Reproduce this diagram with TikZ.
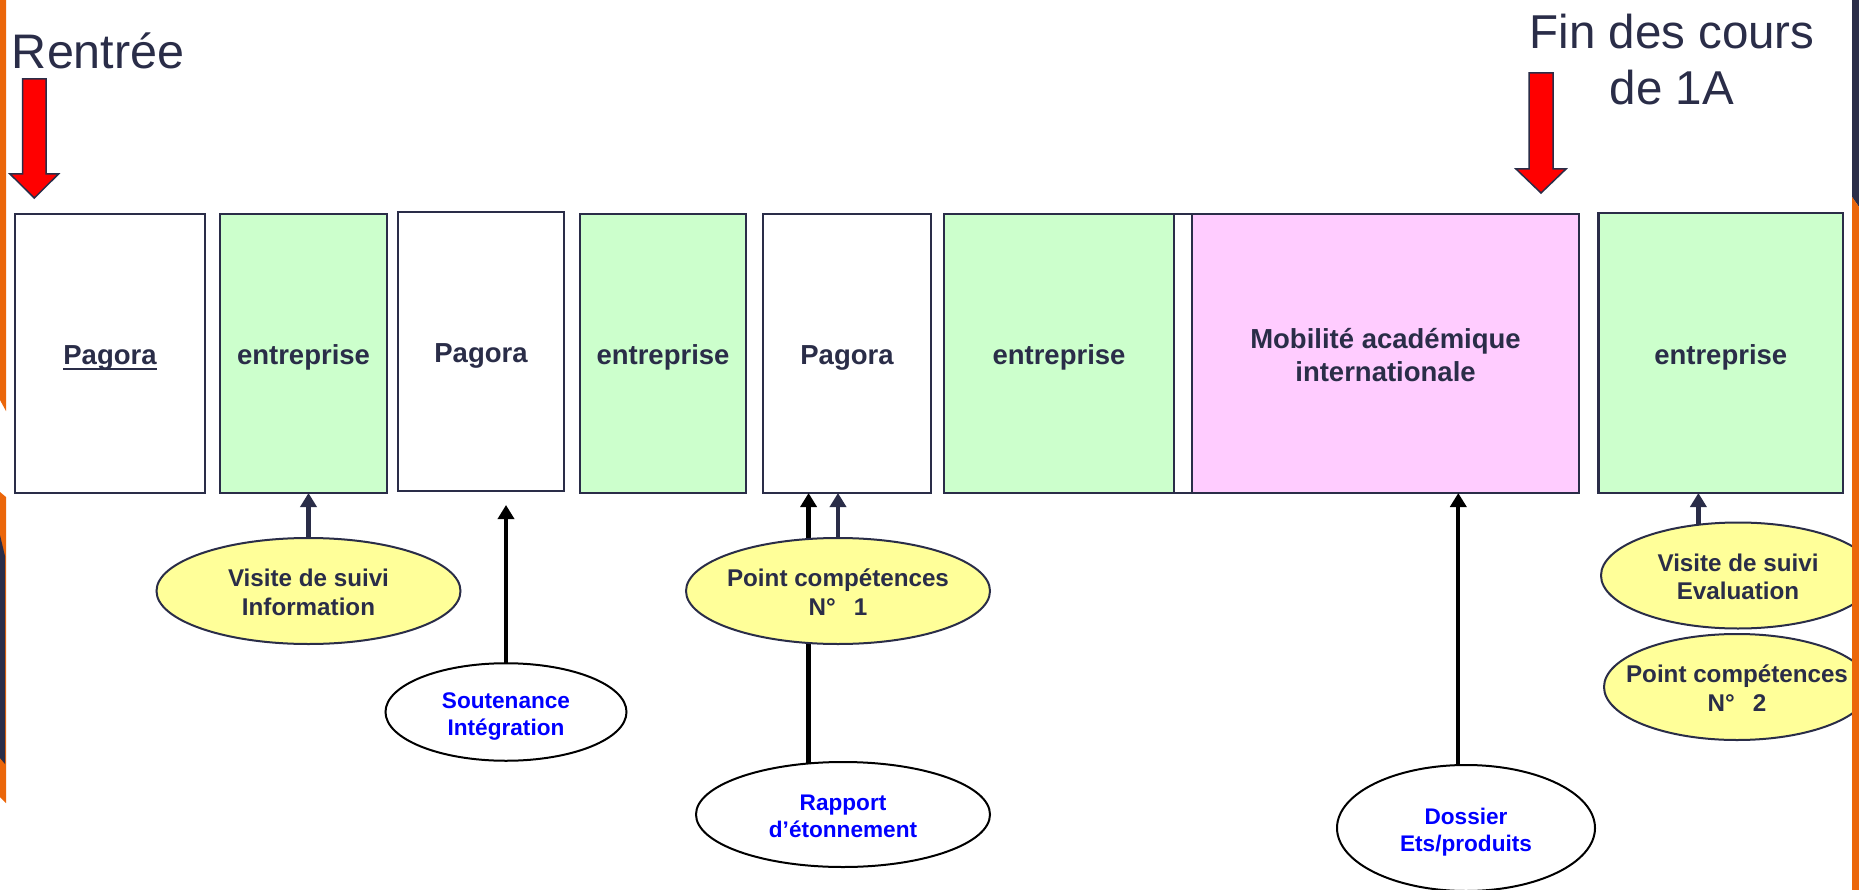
\documentclass[tikz,border=0pt]{standalone}
\usepackage{fontspec}
\setmainfont{Liberation Sans}
\usetikzlibrary{arrows.meta,calc,shapes.geometric}
\definecolor{navy}{RGB}{42,45,72}
\definecolor{greenfill}{RGB}{204,255,204}
\definecolor{pinkfill}{RGB}{255,204,255}
\definecolor{yellowfill}{RGB}{255,255,153}
\definecolor{bluetext}{RGB}{0,0,255}
\definecolor{redfill}{RGB}{255,0,0}
\definecolor{orangestrip}{RGB}{235,102,10}
\newcommand\myul[1]{\setbox0\hbox{#1}\rlap{\rule[-5pt]{\wd0}{2pt}}\box0}
\newcommand\etxt[2][-4.4pt]{\makebox[0pt]{\raisebox{#1}[\height][\depth]{\begin{tabular}{@{}c@{}}#2\end{tabular}}}}
\tikzset{
  box/.style={draw=navy, line width=2.2pt, anchor=north west, outer sep=0pt, inner sep=0pt,
    minimum height=279pt, text=navy, font=\fontsize{27.5}{33.5}\selectfont\bfseries},
  ell/.style={ellipse, line width=2pt, inner sep=0pt, outer sep=0pt},
  yell/.style={ell, draw=navy, fill=yellowfill, text=navy, minimum height=106pt,
    font=\fontsize{24.2}{28.2}\selectfont\bfseries},
  wellip/.style={ell, draw=black, fill=white, text=bluetext,
    font=\fontsize{22.6}{26.7}\selectfont\bfseries},
  navarrow/.style={draw=navy, line width=4.3pt, -{Triangle[width=16pt,length=14pt]}},
  blkarrow/.style={draw=black, line width=4.3pt, -{Triangle[width=16pt,length=14pt]}},
  redarrow/.style={fill=redfill, draw=navy, line width=1.5pt, line join=miter},
  title/.style={inner sep=0pt, outer sep=0pt, text=navy}
}
\begin{document}
\begin{tikzpicture}[x=1pt,y=-1pt]
\useasboundingbox (0,0) rectangle (1859,890);
\fill[white] (0,0) rectangle (1859,890);

% titles
\node[title, anchor=base west, font=\fontsize{48.5}{58}\selectfont] (rentree) at (12,69) {Rentrée};
\node[title, anchor=north, font=\fontsize{47.5}{56.7}\selectfont] (fin) at (1672,8.4) {\begin{tabular}{@{}c@{}}Fin des cours\\de 1A\end{tabular}};

% red arrows
\draw[redarrow] (22.5,79) -- (46,79) -- (46,174) -- (58.5,174) -- (34.3,198) -- (10,174) -- (22.5,174) -- cycle;
\draw[redarrow] (1529,73) -- (1553,73) -- (1553,169) -- (1566,169) -- (1541,193) -- (1516,169) -- (1529,169) -- cycle;

% period boxes
\node[box, fill=white, minimum width=190pt] (b1) at (15,214) {\etxt[-4.6pt]{\myul{Pagora}}};
\node[box, fill=greenfill, minimum width=167pt] (b2) at (220,214) {\etxt[-4.6pt]{entreprise}};
\node[box, fill=white, minimum width=166pt] (b3) at (398,212) {\etxt[-4.6pt]{Pagora}};
\node[box, fill=greenfill, minimum width=166pt] (b4) at (580,214) {\etxt[-4.6pt]{entreprise}};
\node[box, fill=white, minimum width=168pt] (b5) at (763,214) {\etxt[-4.6pt]{Pagora}};
\node[box, fill=white, minimum width=79pt] (bx) at (1113,214) {};
\node[box, fill=greenfill, minimum width=230pt] (b6) at (944,214) {\etxt[-4.6pt]{entreprise}};
\node[box, fill=pinkfill, minimum width=387pt] (b7) at (1192,214) {\etxt[-4.6pt]{Mobilité académique\\internationale}};
\node[box, fill=greenfill, minimum width=244.5pt, minimum height=280pt] (b8) at (1598.5,213) {\etxt[-4.6pt]{entreprise}};

% events
\node[yell, minimum width=304pt] (vis1) at (308.5,591) {\etxt{Visite de suivi\\Information}};
\draw[navarrow] (vis1.north) -- (vis1.north |- b2.south);

\node[wellip, minimum width=241pt, minimum height=97.5pt] (sout) at (506,712) {\etxt{Soutenance\\Intégration}};
\coordinate (souttip) at ($(sout.north |- b3.south)+(0,14)$);
\draw[blkarrow] (sout.north) -- (souttip);

\node[wellip, minimum width=294pt, minimum height=105pt] (rap) at (843,814.5) {\etxt{Rapport\\d’étonnement}};
\draw[blkarrow] (rap.124.8) -- (rap.124.8 |- b5.south);

\node[yell, minimum width=304pt] (pc1) at (838,591) {\etxt{Point compétences\\N°\hspace{0.75em}1}};
\draw[navarrow] (pc1.north) -- (pc1.north |- b5.south);

\node[wellip, minimum width=258pt, minimum height=126pt] (dos) at (1466,828) {\etxt[-4.8pt]{Dossier\\Ets/produits}};
\draw[blkarrow] (dos.97) -- (dos.97 |- b7.south);

\node[yell, minimum width=274pt] (ve) at (1738,575.5) {\etxt{Visite de suivi\\Evaluation}};
\draw[navarrow] (ve.128) -- (ve.128 |- b8.south);

\node[yell, minimum width=266pt] (pc2) at (1737,687) {\etxt{Point compétences\\N°\hspace{0.75em}2}};

% slide edge strips
\fill[orangestrip] (0,0) -- (6,0) -- (6,411) -- (0,400) -- cycle;
\fill[orangestrip] (0,492) -- (6,497) -- (6,803) -- (0,797) -- cycle;
\fill[navy] (0,535) -- (5,556) -- (5,764) -- (0,758) -- cycle;
\fill[navy] (1852,0) -- (1859,0) -- (1859,207) -- (1852,197) -- cycle;
\fill[orangestrip] (1852,197) -- (1859,207) -- (1859,890) -- (1852,890) -- cycle;
\end{tikzpicture}
\end{document}
